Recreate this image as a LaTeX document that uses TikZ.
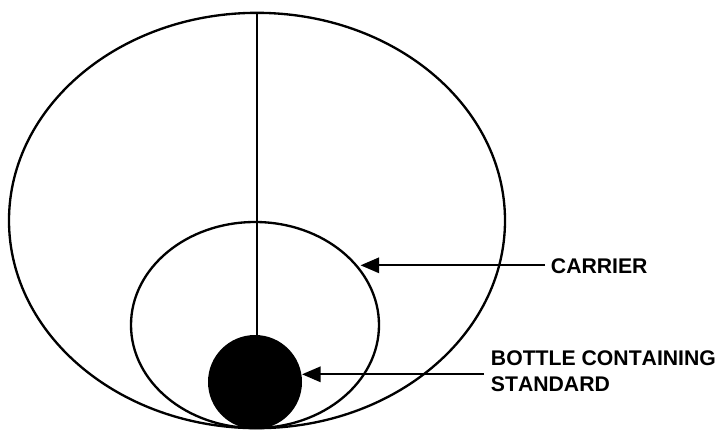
\documentclass[tikz,border=0pt]{standalone}
\usepackage{fontspec}
\setmainfont[Kerning=Off]{Liberation Sans}
\usetikzlibrary{arrows.meta,shapes.geometric}
\tikzset{
  curve/.style={draw=black,line width=1.75pt,fill=none,ellipse,inner sep=0pt},
  solid disc/.style={circle,fill=black,inner sep=0pt,minimum size=70.5pt},
  stem/.style={draw=black,line width=1.75pt},
  pointer/.style={draw=black,line width=1.75pt,-{Triangle[length=14pt,width=11.5pt]},shorten >=0pt},
  lab/.style={font=\bfseries\fontsize{15.9pt}{19.5pt}\selectfont,anchor=west,align=left,inner sep=0pt}
}
\begin{document}
\begin{tikzpicture}[x=0.75pt,y=-0.75pt]
\useasboundingbox (0,0) rectangle (720,429);
\fill[white] (0,0) rectangle (720,429);
\node[curve,minimum width=372pt,minimum height=311.5pt] (outer) at (257,220.5) {};
\node[curve,minimum width=186pt,minimum height=154.5pt] (inner) at (255,325) {};
\node[solid disc] (bottle) at (255,382) {};
\coordinate (top) at (257.3,13);
\coordinate (stemfoot) at (257.3,336);
\draw[stem] (top) -- (stemfoot);
\coordinate (carriertip) at (360.5,265.3);
\coordinate (bottletip) at (302,374.3);
\node[lab] (carrier) at (550.7,266.5) {CARRIER};
\node[lab] (std) at (490.7,371.5) {BOTTLE CONTAINING\\STANDARD};
\coordinate (carriertail) at (545,265.3);
\coordinate (bottletail) at (484,374.3);
\draw[pointer] (carriertail) -- (carriertip);
\draw[pointer] (bottletail) -- (bottletip);
\end{tikzpicture}
\end{document}
